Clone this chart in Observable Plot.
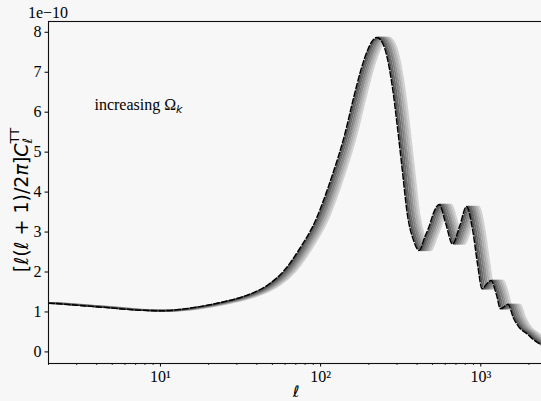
<!DOCTYPE html>
<html>
<head>
<meta charset="utf-8">
<script src="https://cdn.jsdelivr.net/npm/d3@7"></script>
<script src="https://cdn.jsdelivr.net/npm/@observablehq/plot@0.6"></script>
<style>
  html, body { margin: 0; padding: 0; background: #f7f7f7; }
</style>
</head>
<body>
<div id="chart"></div>
<script>
// multipole moments (reference, dashed curve)
const ell = [1.6, 2, 3, 4, 5, 6, 8, 10, 13, 18, 24, 32, 40, 47, 59, 75, 93, 110, 121, 140, 161, 178, 196, 212, 224, 238, 254, 281, 302, 324, 348, 380, 412, 450, 474, 510, 550, 606, 666, 740, 815, 891, 955, 1020, 1100, 1160, 1250, 1330, 1480, 1600, 1750, 1950, 2100, 2400, 2700];
// [l(l+1)/2pi] C_l^TT in units of 1e-10
const dl = [1.23, 1.22, 1.17, 1.13, 1.10, 1.07, 1.04, 1.03, 1.06, 1.14, 1.24, 1.37, 1.52, 1.68, 2.03, 2.62, 3.29, 4.05, 4.54, 5.37, 6.37, 7.04, 7.54, 7.80, 7.87, 7.80, 7.54, 6.62, 5.62, 4.54, 3.45, 2.80, 2.54, 2.90, 3.12, 3.50, 3.69, 3.20, 2.70, 3.16, 3.64, 3.04, 2.20, 1.58, 1.72, 1.79, 1.45, 1.08, 1.19, 0.85, 0.60, 0.45, 0.33, 0.17, 0.08];
// peak-position ratio of each increasing-Omega_k curve relative to the dashed one
const peakShift = [1.022, 1.047, 1.075, 1.101, 1.130, 1.158, 1.188];
const grayColors = ["#555555", "#6a6a6a", "#7f7f7f", "#959595", "#aaaaaa", "#bfbfbf", "#d2d2d2"];
const yTicks = [0, 1, 2, 3, 4, 5, 6, 7, 8];
const xMajor = [10, 100, 1000];
const xMajorLabels = ["10¹", "10²", "10³"];
const xMinor = [2, 3, 4, 5, 6, 7, 8, 9, 20, 30, 40, 50, 60, 70, 80, 90, 200, 300, 400, 500, 600, 700, 800, 900, 2000];

const base = ell.map((l, i) => ({ell: l, dl: dl[i]}));
const grayMarks = [];
for (let k = peakShift.length - 1; k >= 0; k--) {
  const s = peakShift[k];
  grayMarks.push(Plot.line(base.map(d => ({ell: d.ell * s, dl: d.dl})), {
    x: "ell", y: "dl", stroke: grayColors[k], strokeWidth: 1.8, curve: "monotone-x", clip: true
  }));
}

const plot = Plot.plot({
  width: 541,
  height: 401,
  marginLeft: 48,
  marginRight: -3,
  marginTop: 21,
  marginBottom: 38,
  style: {background: "#f7f7f7", fontFamily: "'Liberation Serif', serif", fontSize: "16px", color: "#000"},
  x: {type: "log", domain: [2, 2500]},
  y: {domain: [-0.29, 8.27]},
  marks: [
    ...grayMarks,
    Plot.line(base, {x: "ell", y: "dl", stroke: "#000", strokeWidth: 1.5, strokeDasharray: "5.5,2.4", curve: "monotone-x", clip: true}),
    Plot.axisY({ticks: yTicks, tickSize: 3.5, tickPadding: 3.5, tickFormat: d => String(d), label: null, fontSize: 16}),
    Plot.axisX({ticks: xMajor, tickSize: 3.5, tickPadding: 3.5, tickFormat: d => xMajorLabels[xMajor.indexOf(d)], label: null, fontSize: 16}),
    Plot.axisX({ticks: xMinor, tickSize: 2, tickFormat: () => "", label: null, strokeWidth: 0.8}),
    Plot.frame({stroke: "#111", strokeWidth: 1.1})
  ]
});
document.getElementById("chart").appendChild(plot);

const svg = d3.select(plot);
const xs = plot.scale("x"), ys = plot.scale("y");
const fx = d3.scaleLog().domain(xs.domain).range(xs.range);
const fy = d3.scaleLinear().domain(ys.domain).range(ys.range);

// offset label
svg.append("text")
  .attr("x", fx(2)).attr("y", 18)
  .attr("font-family", "'Liberation Serif', serif").attr("font-size", 16).attr("fill", "#000")
  .text("1e\u221210");

// annotation
const ann = svg.append("text")
  .attr("x", fx(3.9)).attr("y", fy(6.03))
  .attr("text-anchor", "start")
  .attr("font-family", "'Liberation Serif', serif").attr("font-size", 16).attr("fill", "#000");
ann.append("tspan").text("increasing \u03A9");
ann.append("tspan").attr("font-family", "'DejaVu Sans', sans-serif").attr("font-style", "italic")
  .attr("font-size", 11).attr("dy", 3).text("k");

// x label
svg.append("text")
  .attr("x", (fx(2) + fx(2500)) / 2).attr("y", 397)
  .attr("text-anchor", "middle")
  .attr("font-family", "'DejaVu Sans', sans-serif").attr("font-style", "italic").attr("font-size", 16).attr("fill", "#000")
  .text("\u2113");

// y label
const yl = svg.append("text")
  .attr("transform", "translate(28,200) rotate(-90)")
  .attr("text-anchor", "middle")
  .attr("font-family", "'DejaVu Sans', sans-serif").attr("font-size", 19).attr("fill", "#000");
yl.append("tspan").text("[");
yl.append("tspan").attr("font-style", "italic").text("\u2113");
yl.append("tspan").text("(");
yl.append("tspan").attr("font-style", "italic").text("\u2113");
yl.append("tspan").text(" + 1)/2");
yl.append("tspan").attr("font-style", "italic").text("\u03C0");
yl.append("tspan").text("]");
yl.append("tspan").attr("font-style", "italic").text("C");
yl.append("tspan").attr("font-style", "italic").attr("font-size", 13).attr("dy", 4).text("\u2113");
yl.append("tspan").attr("font-size", 13).attr("dx", -5.5).attr("dy", -13).text("TT");
</script>
</body>
</html>
